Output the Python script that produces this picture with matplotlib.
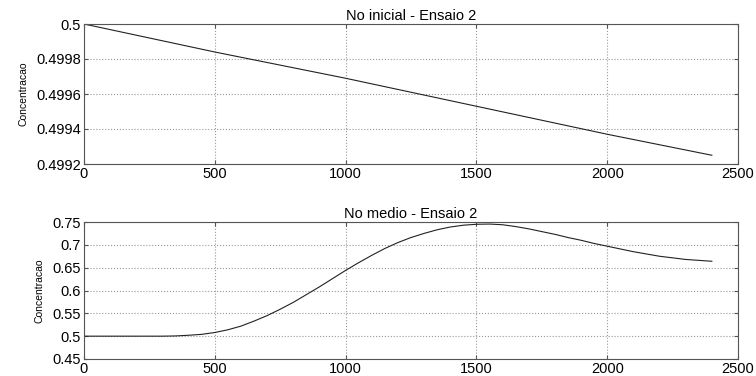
import matplotlib
matplotlib.use("Agg")
import matplotlib.pyplot as plt

# top: No inicial
t_top = [0, 500, 1000, 1500, 2000, 2400]
c_top = [0.5, 0.49984, 0.49969, 0.49953, 0.49937, 0.49925]

# bottom: No medio
t_bot = [0, 100, 200, 300, 350, 400, 450, 500, 550, 600, 650, 700, 750, 800,
         850, 900, 950, 1000, 1050, 1100, 1150, 1200, 1250, 1300, 1350, 1400,
         1450, 1500, 1550, 1600, 1650, 1700, 1750, 1800, 1850, 1900, 1950,
         2000, 2100, 2200, 2300, 2400]
c_bot = [0.5, 0.5, 0.5, 0.5, 0.5005, 0.502, 0.504, 0.508, 0.514, 0.522, 0.533,
         0.545, 0.559, 0.574, 0.591, 0.608, 0.626, 0.644, 0.661, 0.677, 0.692,
         0.705, 0.716, 0.725, 0.733, 0.739, 0.743, 0.745, 0.7455, 0.744, 0.740,
         0.735, 0.729, 0.723, 0.716, 0.710, 0.703, 0.697, 0.685, 0.675,
         0.668, 0.664]

plt.rcParams["font.family"] = ["Liberation Sans", "DejaVu Sans"]
plt.rcParams["font.size"] = 10.5

fig = plt.figure(figsize=(7.56, 3.76), dpi=100)
ax1 = fig.add_axes([84 / 756, 1 - 164 / 376, 654 / 756, 140 / 376])
ax2 = fig.add_axes([84 / 756, 1 - 359 / 376, 654 / 756, 137 / 376])


def style(ax):
    ax.set_xlim(0, 2500)
    ax.set_xticks([0, 500, 1000, 1500, 2000, 2500])
    ax.grid(True, linestyle=":", color="#999999", linewidth=0.8)
    ax.tick_params(direction="in", top=True, right=True, length=3,
                   color="#555555", pad=2)
    for s in ax.spines.values():
        s.set_color("#555555")
        s.set_linewidth(0.8)
    ax.set_ylabel("Concentracao", fontsize=7.5, labelpad=6)


ax1.plot(t_top, c_top, color="#222222", linewidth=0.8)
style(ax1)
ax1.set_ylim(0.4992, 0.5)
ax1.set_yticks([0.4992, 0.4994, 0.4996, 0.4998, 0.5])
ax1.set_yticklabels(["0.4992", "0.4994", "0.4996", "0.4998", "0.5"])
ax1.set_title("No inicial - Ensaio 2", fontsize=10.5, pad=3)

ax2.plot(t_bot, c_bot, color="#222222", linewidth=0.8)
style(ax2)
ax2.set_ylim(0.45, 0.75)
ax2.set_yticks([0.45, 0.5, 0.55, 0.6, 0.65, 0.7, 0.75])
ax2.set_yticklabels(["0.45", "0.5", "0.55", "0.6", "0.65", "0.7", "0.75"])
ax2.set_title("No medio - Ensaio 2", fontsize=10.5, pad=3)

fig.savefig("out.png", dpi=100)
